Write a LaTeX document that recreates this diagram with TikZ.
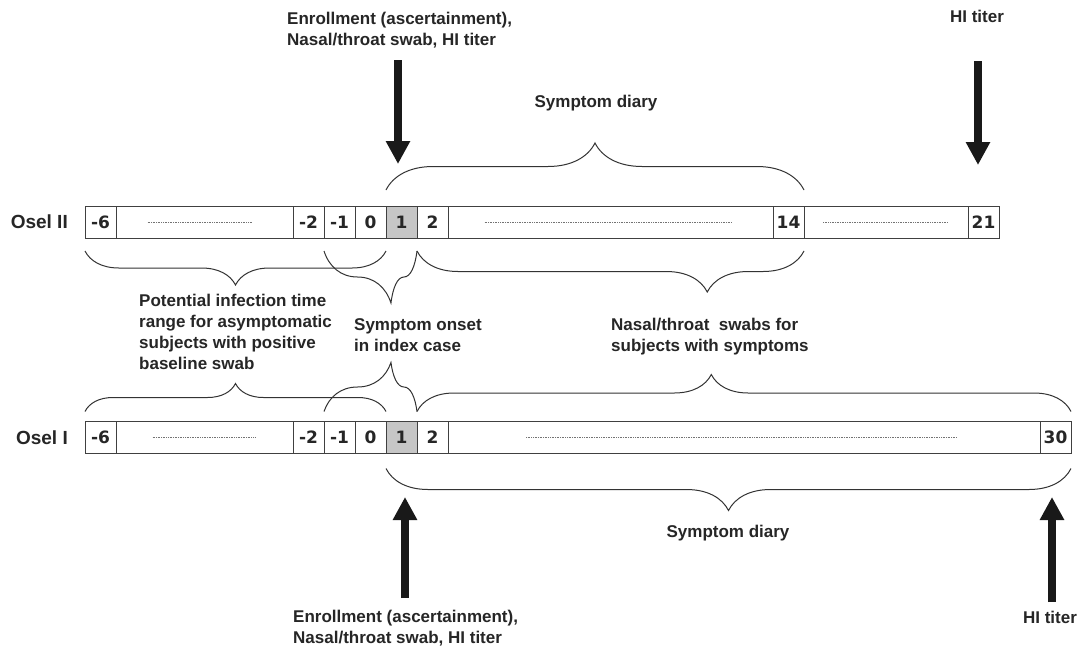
\documentclass[tikz,border=0pt]{standalone}
\usepackage{fontspec}
\setmainfont{Liberation Sans}
\newfontfamily\numfont{DejaVu Sans}
\usetikzlibrary{arrows.meta,positioning,decorations.pathreplacing}

\tikzset{
  cell/.style={draw=black!75, line width=0.9pt, fill=white, minimum width=31pt, minimum height=32pt,
    inner sep=0pt, outer sep=0pt, font=\numfont\bfseries\fontsize{17}{19}\selectfont, text=black!85},
  dotcell/.style={cell, minimum width=#1},
  onset/.style={cell, fill=gray!45},
  rowlbl/.style={font=\bfseries\fontsize{19}{22}\selectfont, text=black!85, inner sep=0pt},
  lbl/.style={font=\bfseries\fontsize{17}{21}\selectfont, text=black!85, align=left, inner sep=0pt},
  dotline/.style={densely dotted, line width=0.7pt, black!55},
  curly/.style={decorate, decoration={brace, amplitude=#1}, line width=1pt, black!80},
  curlydown/.style={decorate, decoration={brace, mirror, amplitude=#1}, line width=1pt, black!80},
  bigarrow/.style={line width=8pt, black!90, -{Triangle[width=23pt,length=23pt]}}
}

\begin{document}
\begin{tikzpicture}[x=1pt, y=1pt]
    \fill[white] (0,0) rectangle (1084,-654);
    \useasboundingbox (0,0) rectangle (1084,-654);

    % Osel II
    \node[cell] (IIm6) at (100.5,-222) {-6};
    \node[dotcell=177pt, right=0pt of IIm6] (IIdotsA) {};
    \node[cell, right=0pt of IIdotsA] (IIm2) {-2};
    \node[cell, right=0pt of IIm2] (IIm1) {-1};
    \node[cell, right=0pt of IIm1] (II0) {0};
    \node[onset, right=0pt of II0] (II1) {1};
    \node[cell, right=0pt of II1] (II2) {2};
    \node[dotcell=325pt, right=0pt of II2] (IIdotsB) {};
    \node[cell, right=0pt of IIdotsB] (II14) {14};
    \node[dotcell=164pt, right=0pt of II14] (IIdotsC) {};
    \node[cell, right=0pt of IIdotsC] (II21) {21};
    \node[rowlbl, left=17pt of IIm6] (oselII) {Osel II};

    \draw[dotline] ([xshift=-57pt]IIdotsA.center) -- ([xshift=47pt]IIdotsA.center);
    \draw[dotline] ([xshift=-126pt]IIdotsB.center) -- ([xshift=122pt]IIdotsB.center);
    \draw[dotline] ([xshift=-63pt]IIdotsC.center) -- ([xshift=62pt]IIdotsC.center);

    % Osel I
    \node[cell] (Im6) at (100.5,-437.5) {-6};
    \node[dotcell=177pt, right=0pt of Im6] (IdotsA) {};
    \node[cell, right=0pt of IdotsA] (Im2) {-2};
    \node[cell, right=0pt of Im2] (Im1) {-1};
    \node[cell, right=0pt of Im1] (I0) {0};
    \node[onset, right=0pt of I0] (I1) {1};
    \node[cell, right=0pt of I1] (I2) {2};
    \node[dotcell=592pt, right=0pt of I2] (IdotsB) {};
    \node[cell, right=0pt of IdotsB] (I30) {30};
    \node[rowlbl, left=17pt of Im6] (oselI) {Osel I};

    \draw[dotline] ([xshift=-52pt]IdotsA.center) -- ([xshift=51pt]IdotsA.center);
    \draw[dotline] ([xshift=-218pt]IdotsB.center) -- ([xshift=213pt]IdotsB.center);

    % braces
    \draw[curly=47pt] ([yshift=16pt]II1.north west) -- ([yshift=16pt]II14.north east);
    \draw[curlydown=34pt] ([yshift=-13pt]IIm6.south west) -- ([yshift=-13pt]II0.south east);
    \draw[curlydown=52pt, decoration={aspect=0.72}] ([yshift=-13pt]IIm1.south west) -- ([yshift=-13pt]II1.south east);
    \draw[curlydown=41pt, decoration={aspect=0.75}] ([yshift=-13pt]II2.south west) -- ([yshift=-13pt]II14.south east);
    \draw[curly=28pt] ([yshift=10pt]Im6.north west) -- ([yshift=10pt]I0.north east);
    \draw[curly=49pt, decoration={aspect=0.72}] ([yshift=10pt]Im1.north west) -- ([yshift=10pt]I1.north east);
    \draw[curly=37pt, decoration={aspect=0.45}] ([yshift=10pt]I2.north west) -- ([yshift=10pt]I30.north east);
    \draw[curlydown=42pt] ([yshift=-15pt]I1.south west) -- ([yshift=-15pt]I30.south east);

    % labels
    \node[lbl, anchor=north west] (enrTop) at (287,-11.5) {Enrollment (ascertainment),\\Nasal/throat swab, HI titer};
    \node[lbl, anchor=base] (hiTop) at (977,-22) {HI titer};
    \node[lbl, anchor=base] (diaryII) at (596,-107) {Symptom diary};
    \node[lbl, anchor=north west] (infect) at (139,-293.6) {Potential infection time\\range for asymptomatic\\subjects with positive\\baseline swab};
    \node[lbl, anchor=north west] (onsetTxt) at (354,-318.6) {Symptom onset\\in index case};
    \node[lbl, anchor=north west] (swabs) at (611,-317.6) {Nasal/throat \ swabs for\\subjects with symptoms};
    \node[lbl, anchor=base] (diaryI) at (728,-537) {Symptom diary};
    \node[lbl, anchor=north west] (enrBot) at (293,-609.6) {Enrollment (ascertainment),\\Nasal/throat swab, HI titer};
    \node[lbl, anchor=base] (hiBot) at (1050,-623) {HI titer};

    % arrows
    \coordinate (enrTopS) at (398,-60);
    \coordinate (enrTopE) at (398,-164);
    \coordinate (hiTopS) at (978,-61);
    \coordinate (hiTopE) at (978,-165);
    \coordinate (enrBotS) at (405,-598);
    \coordinate (enrBotE) at (405,-497);
    \coordinate (hiBotS) at (1052,-602);
    \coordinate (hiBotE) at (1052,-497);
    \draw[bigarrow] (enrTopS) -- (enrTopE);
    \draw[bigarrow] (hiTopS) -- (hiTopE);
    \draw[bigarrow] (enrBotS) -- (enrBotE);
    \draw[bigarrow] (hiBotS) -- (hiBotE);
\end{tikzpicture}
\end{document}
